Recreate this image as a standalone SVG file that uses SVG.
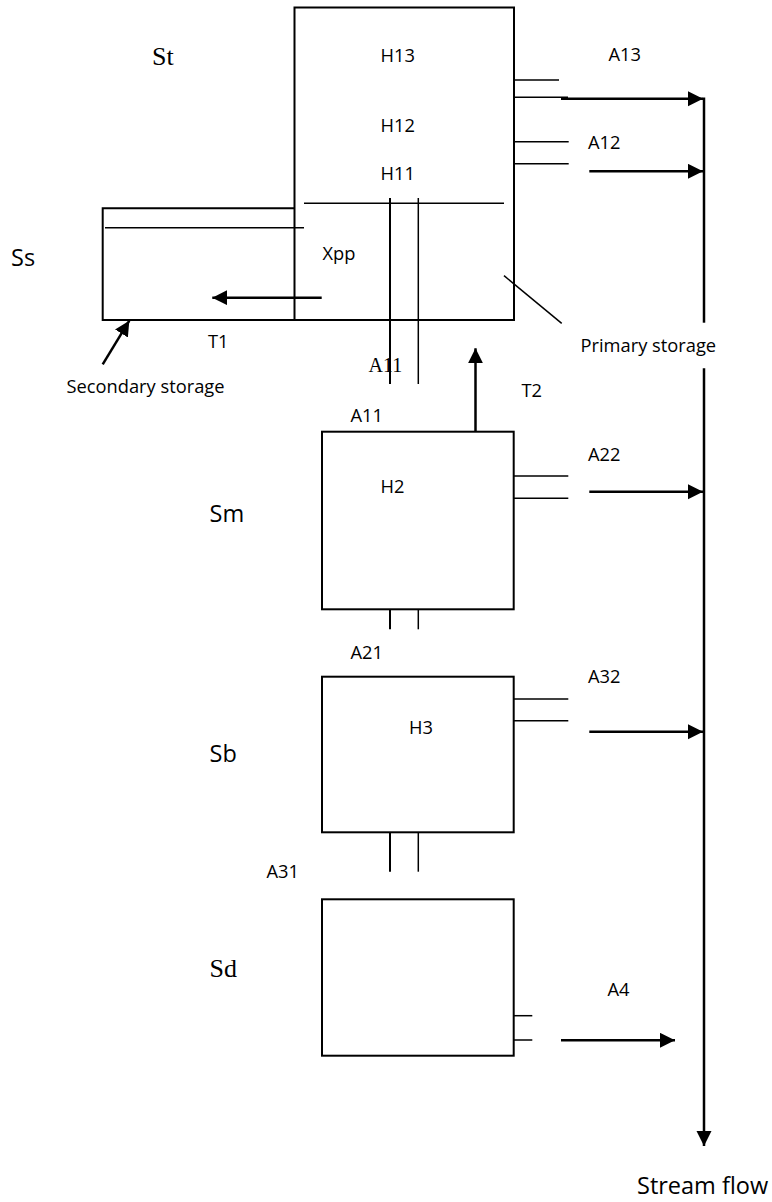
<svg xmlns="http://www.w3.org/2000/svg" width="772" height="1202" viewBox="0 0 772 1202">
<style>
.box{fill:none;stroke:#000;stroke-width:2}
.thin{fill:none;stroke:#000;stroke-width:1.5}
.arr{fill:none;stroke:#000;stroke-width:2.5;marker-end:url(#ah)}
.line{fill:none;stroke:#000;stroke-width:2.5}
.lbl{font-family:"Open Sans","Noto Sans",sans-serif;font-size:18.3px;fill:#000}
.big{font-family:"Open Sans","Noto Sans",sans-serif;font-size:23.5px;fill:#000}
.ser{font-family:"Liberation Serif","Times New Roman",serif;font-size:26px;fill:#000}
.ser2{font-family:"Liberation Serif","Times New Roman",serif;font-size:20px;fill:#000}
</style>
<defs>
<marker id="ah" markerUnits="userSpaceOnUse" markerWidth="16" markerHeight="16" refX="15" refY="7.5" orient="auto">
<path d="M0,0 L15,7.5 L0,15 Z" fill="#000"/>
</marker>
</defs>
<rect width="772" height="1202" fill="#fff"/>

<g id="primary-storage">
<rect class="box" x="294.5" y="7.5" width="219.5" height="312.5"/>
<line class="thin" x1="304" y1="203.3" x2="504" y2="203.3"/>
<line class="thin" x1="514" y1="80" x2="559" y2="80"/>
<line class="thin" x1="514" y1="97.3" x2="568" y2="97.3"/>
<line class="thin" x1="514" y1="141.7" x2="568.7" y2="141.7"/>
<line class="thin" x1="514" y1="163.7" x2="568.7" y2="163.7"/>
<line class="box" x1="390" y1="198" x2="390" y2="384"/>
<line class="thin" x1="418.3" y1="198" x2="418.3" y2="384"/>
<text class="lbl" x="380.5" y="61.7">H13</text>
<text class="lbl" x="380.5" y="132.3">H12</text>
<text class="lbl" x="380.5" y="180.3">H11</text>
<text class="lbl" x="322.5" y="260">Xpp</text>
</g>

<g id="secondary-storage">
<path class="box" d="M294.5,208.3 H102.7 V320 H294.5"/>
<line class="thin" x1="105" y1="227.7" x2="304" y2="227.7"/>
</g>

<g id="sm-box">
<rect class="box" x="322" y="431.7" width="191.7" height="177.6"/>
<line class="thin" x1="513.7" y1="476" x2="568.3" y2="476"/>
<line class="thin" x1="513.7" y1="498.3" x2="568.3" y2="498.3"/>
<line class="box" x1="390" y1="609.3" x2="390" y2="629.3"/>
<line class="thin" x1="418.3" y1="609.3" x2="418.3" y2="629.3"/>
<text class="lbl" x="380.5" y="493.3">H2</text>
</g>

<g id="sb-box">
<rect class="box" x="322" y="676.7" width="191.7" height="155.6"/>
<line class="thin" x1="513.7" y1="699" x2="568.3" y2="699"/>
<line class="thin" x1="513.7" y1="720.7" x2="568.3" y2="720.7"/>
<line class="box" x1="390" y1="832.3" x2="390" y2="871.7"/>
<line class="thin" x1="418.3" y1="832.3" x2="418.3" y2="871.7"/>
<text class="lbl" x="409" y="734">H3</text>
</g>

<g id="sd-box">
<rect class="box" x="322" y="899.3" width="191.7" height="156.4"/>
<line class="thin" x1="513.7" y1="1015.7" x2="532.3" y2="1015.7"/>
<line class="thin" x1="513.7" y1="1040" x2="532.3" y2="1040"/>
</g>

<g id="connectors">
<line class="arr" x1="561" y1="98.8" x2="703" y2="98.8"/>
<line class="arr" x1="589.3" y1="171.3" x2="703" y2="171.3"/>
<line class="arr" x1="589.3" y1="491.7" x2="703" y2="491.7"/>
<line class="arr" x1="589.3" y1="731.7" x2="703" y2="731.7"/>
<line class="arr" x1="561" y1="1040.3" x2="675" y2="1040.3"/>
<line class="line" x1="704" y1="97.5" x2="704" y2="322.7"/>
<line class="arr" x1="704" y1="368.3" x2="704" y2="1146"/>
<line class="arr" x1="475.5" y1="431" x2="475.5" y2="348.3"/>
<line class="arr" x1="321.7" y1="297.7" x2="212.3" y2="297.7"/>
<line class="arr" x1="102.7" y1="364.3" x2="129.3" y2="320.7"/>
<line class="thin" x1="504" y1="275.7" x2="561.7" y2="323.3"/>
</g>

<g id="labels">
<text class="ser" x="152" y="65">St</text>
<text class="big" x="11" y="265.7">Ss</text>
<text class="big" x="209.5" y="521.7">Sm</text>
<text class="big" x="209.5" y="761.7">Sb</text>
<text class="ser" x="209.5" y="976.7">Sd</text>
<text class="lbl" x="608.5" y="61">A13</text>
<text class="lbl" x="588" y="149">A12</text>
<text class="lbl" x="208" y="348.3">T1</text>
<text class="lbl" x="580.5" y="352.3">Primary storage</text>
<text class="lbl" x="66.5" y="393">Secondary storage</text>
<text class="ser2" x="368.5" y="371.7">A11</text>
<text class="lbl" x="521.5" y="396.7">T2</text>
<text class="lbl" x="350.5" y="421.5">A11</text>
<text class="lbl" x="588" y="460.7">A22</text>
<text class="lbl" x="350.5" y="659.3">A21</text>
<text class="lbl" x="588" y="683.3">A32</text>
<text class="lbl" x="266.5" y="878.3">A31</text>
<text class="lbl" x="607.5" y="996">A4</text>
<text class="big" x="637" y="1194.3">Stream flow</text>
</g>
</svg>
